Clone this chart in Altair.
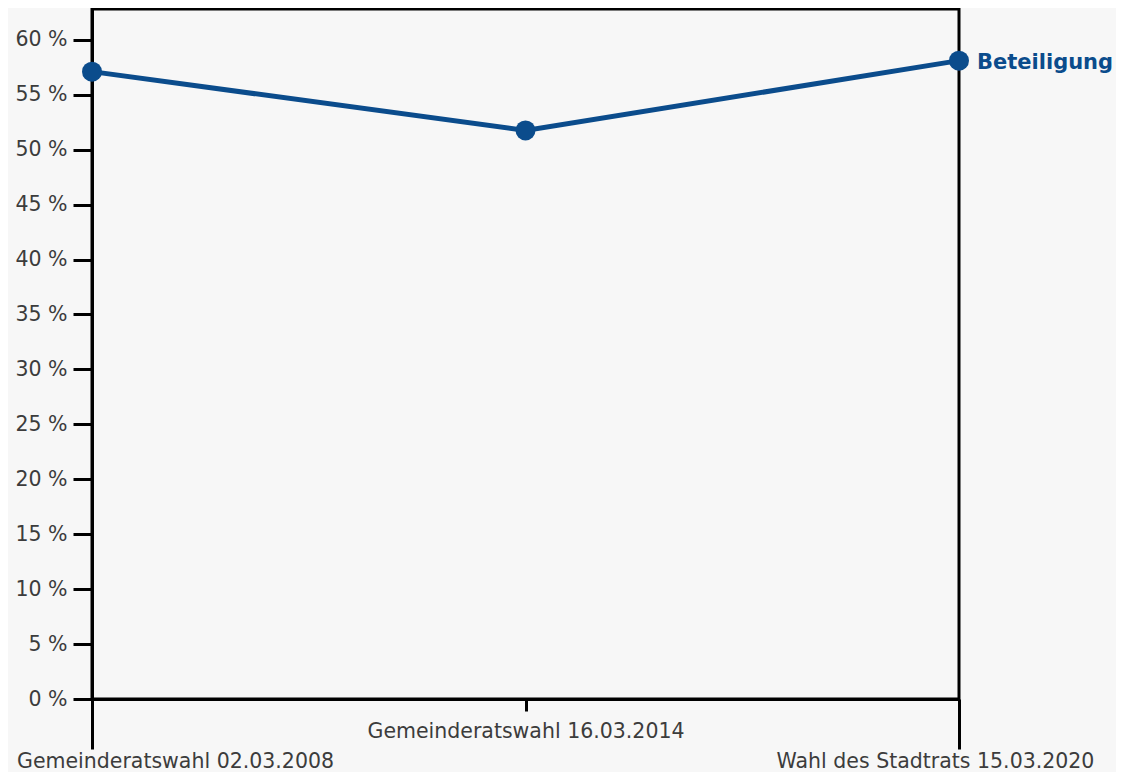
import json
import altair as alt
import pandas as pd

# ---- data ----
categories = [
    "Gemeinderatswahl 02.03.2008",
    "Gemeinderatswahl 16.03.2014",
    "Wahl des Stadtrats 15.03.2020",
]
turnout = [57.1, 51.75, 58.1]
series_name = "Beteiligung"
y_tick_values = [0, 5, 10, 15, 20, 25, 30, 35, 40, 45, 50, 55, 60]

df = pd.DataFrame({
    "wahl": categories,
    "beteiligung": turnout,
    "serie": [series_name] * len(categories),
})

BLUE = "#0b4c8c"
TXT = "#3c3c3c"
FONT = "DejaVu Sans"

first = json.dumps(categories[0])
last = json.dumps(categories[-1])
is_end = f"datum.value === {first} || datum.value === {last}"

x_axis = alt.Axis(
    labelAngle=0,
    labelFont=FONT,
    labelFontSize=20.5,
    labelColor=TXT,
    labelBaseline="top",
    labelAlign="center",
    labelOverlap=False,
    labelBound=False,
    labelFlush=False,
    labelLimit=0,
    domainColor="black",
    domainWidth=3,
    tickColor="black",
    tickWidth=3,
    tickSize={"condition": {"test": is_end, "value": 50}, "value": 12},
    labelPadding={"condition": {"test": is_end, "value": 2}, "value": 10},
    labelOffset={
        "condition": [
            {"test": f"datum.value === {first}", "value": 83},
            {"test": f"datum.value === {last}", "value": -24},
        ],
        "value": 0,
    },
    grid=False,
)

y_axis = alt.Axis(
    values=y_tick_values,
    labelExpr="datum.value + ' %'",
    labelFont=FONT,
    labelFontSize=20.5,
    labelColor=TXT,
    labelPadding=6,
    domainColor="black",
    domainWidth=3,
    tickColor="black",
    tickWidth=3,
    tickSize=19,
    grid=False,
)

x = alt.X("wahl:N", sort=categories, title=None,
          scale=alt.Scale(type="point", padding=0), axis=x_axis)
y = alt.Y("beteiligung:Q", title=None,
          scale=alt.Scale(domain=[0, 62.8], nice=False, zero=True), axis=y_axis)

base = alt.Chart(df)

line = base.mark_line(color=BLUE, strokeWidth=5).encode(x=x, y=y)
points = base.mark_circle(color=BLUE, opacity=1, size=400).encode(x=x, y=y)
label = base.transform_filter(f"datum.wahl === {last}").mark_text(
    align="left", baseline="middle", dx=18, dy=2,
    font=FONT, fontSize=21, fontWeight="bold", color=BLUE,
).encode(x=x, y=y, text="serie:N")

chart = (
    alt.layer(line, points, label)
    .properties(
        width=867,
        height=690,
        autosize="none",
        padding={"left": 84, "top": 1, "right": 157, "bottom": 73},
        background="#f7f7f7",
    )
    .configure_view(stroke="black", strokeWidth=3)
)

chart.save("out.html", embed_options={"renderer": "svg", "actions": False})
